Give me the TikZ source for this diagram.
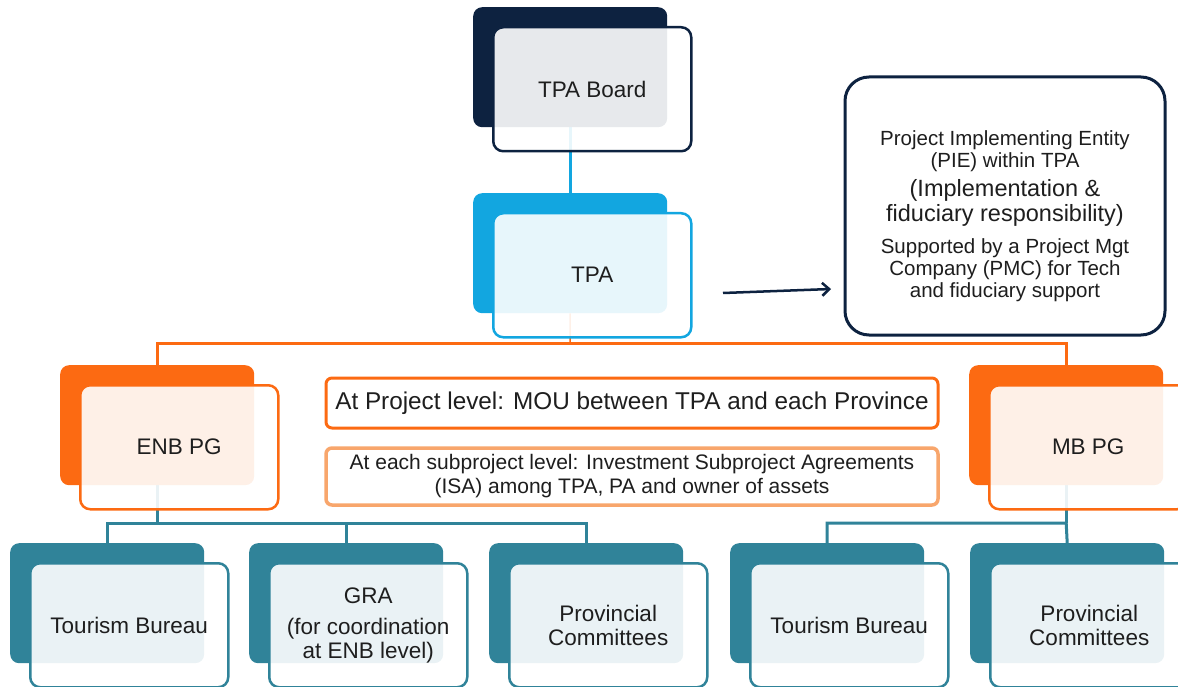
\documentclass[tikz,border=0pt]{standalone}
\usepackage{fontspec}
\setmainfont{Liberation Sans}
\usetikzlibrary{arrows.meta,calc}
\definecolor{navy}{RGB}{13,34,64}
\definecolor{cyanc}{RGB}{18,166,224}
\definecolor{orangec}{RGB}{252,106,18}
\definecolor{tealc}{RGB}{48,131,153}
\definecolor{isaor}{RGB}{248,166,108}
\definecolor{txt}{RGB}{30,30,30}
\pgfdeclarelayer{background}
\pgfsetlayers{background,main}
\newcommand\pfa{\fontsize{20.5}{22}\selectfont}
\newcommand\pfb{\fontsize{23.5}{25}\selectfont}
\tikzset{
  backbox/.style={fill=#1, draw=none, rounded corners=9pt, minimum width=194pt, minimum height=120pt, inner sep=0pt},
  frontbox/.style={draw=#1, fill=white, fill opacity=0.9, text opacity=1, line width=2.5pt, rounded corners=10pt,
    minimum width=198pt, minimum height=124pt, inner sep=0pt, align=center, text=txt, font=\fontsize{22.5}{24}\selectfont},
  piebox/.style={draw=navy, fill=white, line width=3pt, rounded corners=24pt, minimum width=320pt, minimum height=258pt,
    inner sep=0pt, align=center, text=txt, font=\fontsize{20.5}{22}\selectfont},
  moubox/.style={draw=orangec, fill=white, line width=3pt, rounded corners=6pt, minimum width=612pt, minimum height=50pt,
    inner sep=0pt, text=txt, font=\fontsize{24.3}{26}\selectfont},
  isabox/.style={draw=isaor, fill=white, line width=3.5pt, rounded corners=6pt, minimum width=612pt, minimum height=57pt,
    inner sep=0pt, align=center, text=txt, font=\fontsize{21}{24}\selectfont},
  cline/.style={draw=cyanc, line width=3pt},
  oline/.style={draw=orangec, line width=3pt},
  tline/.style={draw=tealc, line width=3pt},
}
\newcommand\dualbox[5]{%
  \node[backbox=#2, anchor=north west] (#1-bk) at (#3,#4) {};
  \node[frontbox=#2, anchor=north west] (#1) at (#3+19,#4+19) {#5};%
}
\begin{document}
\begin{tikzpicture}[x=1pt,y=-1pt]
\clip (0,0) rectangle (1178,687);
\useasboundingbox (0,0) rectangle (1178,687);

\dualbox{board}{navy}{473}{7}{TPA Board}
\dualbox{tpa}{cyanc}{473}{193}{TPA}
\dualbox{enb}{orangec}{60}{365}{ENB PG}
\dualbox{mb}{orangec}{969}{365}{MB PG}
\dualbox{tb1}{tealc}{10}{543}{Tourism Bureau}
\dualbox{gra}{tealc}{249}{543}{GRA\\[7pt](for coordination\\at ENB level)}
\dualbox{pc1}{tealc}{489}{543}{Provincial\\Committees}
\dualbox{tb2}{tealc}{730}{543}{Tourism Bureau}
\dualbox{pc2}{tealc}{970}{543}{Provincial\\Committees}

\node[piebox] (pie) at (1005,206) {%
  \pfa\rule{0pt}{36pt}Project Implementing Entity\\
  \pfa (PIE) within TPA\\[7pt]
  \pfb (Implementation \&\\[3pt]
  \pfb fiduciary responsibility)\\[10pt]
  \pfa Supported by a Project Mgt\\
  \pfa Company (PMC) for Tech\\
  \pfa and fiduciary support};

\node[moubox] (mou) at (632,403) {At Project level: MOU between TPA and each Province};
\node[isabox] (isa) at (632,476.5) {At each subproject level: Investment Subproject Agreements\\(ISA) among TPA, PA and owner of assets};

\coordinate (as) at (723,293);
\coordinate (ae) at (831,289);
\draw[navy, line width=2.5pt, -{Straight Barb[length=7pt,width=13pt]}] (as) -- (ae);

\coordinate (obus) at (570,343);
\coordinate (ylev) at (0,523);
\coordinate (ebus) at (enb-bk.south |- ylev);
\coordinate (mbus) at (mb-bk.south |- ylev);

\begin{pgfonlayer}{background}
\draw[cline] (board-bk.south) -- (tpa-bk.north);
\draw[oline, line width=1.5pt] (tpa-bk.south) -- (obus);
\draw[oline] (enb-bk.north) |- (obus) -| (mb-bk.north);
\draw[tline] (enb-bk.south) -- (ebus);
\draw[tline] (tb1-bk.north) |- (ebus) -| (pc1-bk.north);
\draw[tline] (gra-bk.north) -- (gra-bk.north |- ylev);
\draw[tline] (mb-bk.south) -- (mbus);
\draw[tline] (tb2-bk.north) |- (mbus) -- (pc2-bk.north);
\end{pgfonlayer}
\end{tikzpicture}
\end{document}
